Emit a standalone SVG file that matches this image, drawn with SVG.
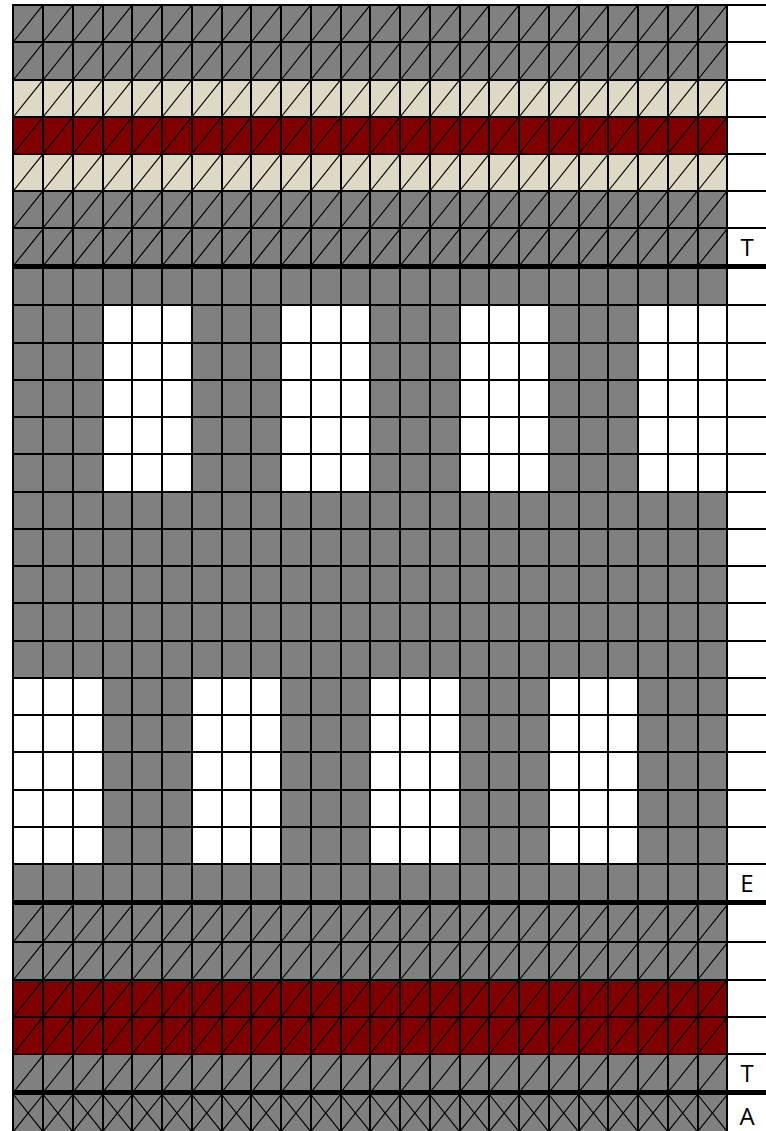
<svg xmlns="http://www.w3.org/2000/svg" xmlns:xlink="http://www.w3.org/1999/xlink" width="766" height="1131" viewBox="0 0 766 1131">
<style>
.g{fill:#808080}.c{fill:#DDD9C4}.r{fill:#800000}.w{fill:#FFFFFF}
.dg{fill:none;stroke:#000;stroke-width:1.2}
.gl{fill:none;stroke:#000;stroke-width:2}
.tk{fill:none;stroke:#000;stroke-width:5}
.lbl{font-family:"Open Sans","Liberation Sans",sans-serif;font-size:24px;fill:#000;text-anchor:middle}
</style>
<defs>
<path id="d" class="dg" d="M13.3,37.2l29.75,-37.2m0,37.2l29.75,-37.2m0,37.2l29.75,-37.2m0,37.2l29.75,-37.2m0,37.2l29.75,-37.2m0,37.2l29.75,-37.2m0,37.2l29.75,-37.2m0,37.2l29.75,-37.2m0,37.2l29.75,-37.2m0,37.2l29.75,-37.2m0,37.2l29.75,-37.2m0,37.2l29.75,-37.2m0,37.2l29.75,-37.2m0,37.2l29.75,-37.2m0,37.2l29.75,-37.2m0,37.2l29.75,-37.2m0,37.2l29.75,-37.2m0,37.2l29.75,-37.2m0,37.2l29.75,-37.2m0,37.2l29.75,-37.2m0,37.2l29.75,-37.2m0,37.2l29.75,-37.2m0,37.2l29.75,-37.2m0,37.2l29.75,-37.2"/>
<path id="b" class="dg" d="M13.3,0l29.75,37.2m0,-37.2l29.75,37.2m0,-37.2l29.75,37.2m0,-37.2l29.75,37.2m0,-37.2l29.75,37.2m0,-37.2l29.75,37.2m0,-37.2l29.75,37.2m0,-37.2l29.75,37.2m0,-37.2l29.75,37.2m0,-37.2l29.75,37.2m0,-37.2l29.75,37.2m0,-37.2l29.75,37.2m0,-37.2l29.75,37.2m0,-37.2l29.75,37.2m0,-37.2l29.75,37.2m0,-37.2l29.75,37.2m0,-37.2l29.75,37.2m0,-37.2l29.75,37.2m0,-37.2l29.75,37.2m0,-37.2l29.75,37.2m0,-37.2l29.75,37.2m0,-37.2l29.75,37.2m0,-37.2l29.75,37.2m0,-37.2l29.75,37.2"/>
</defs>
<rect width="766" height="1131" fill="#FFFFFF"/>
<g id="fills">
<rect class="g" x="13" y="5" width="714" height="75"/>
<rect class="c" x="13" y="80" width="714" height="37"/>
<rect class="r" x="13" y="117" width="714" height="37"/>
<rect class="c" x="13" y="154" width="714" height="37"/>
<rect class="g" x="13" y="191" width="714" height="712"/>
<rect class="w" x="103" y="305" width="89" height="187"/>
<rect class="w" x="281" y="305" width="89" height="187"/>
<rect class="w" x="460" y="305" width="89" height="187"/>
<rect class="w" x="638" y="305" width="89" height="187"/>
<rect class="w" x="13" y="678" width="90" height="186"/>
<rect class="w" x="192" y="678" width="89" height="186"/>
<rect class="w" x="370" y="678" width="90" height="186"/>
<rect class="w" x="549" y="678" width="89" height="186"/>
<rect class="g" x="13" y="902" width="714" height="78"/>
<rect class="r" x="13" y="980" width="714" height="74"/>
<rect class="g" x="13" y="1054" width="714" height="77"/>
</g>
<g id="diagonals">
<use xlink:href="#d" y="4.8"/>
<use xlink:href="#d" y="42.8"/>
<use xlink:href="#d" y="79.8"/>
<use xlink:href="#d" y="116.8"/>
<use xlink:href="#d" y="153.8"/>
<use xlink:href="#d" y="190.8"/>
<use xlink:href="#d" y="228.8"/>
<use xlink:href="#d" y="904.8"/>
<use xlink:href="#d" y="942.8"/>
<use xlink:href="#d" y="979.8"/>
<use xlink:href="#d" y="1016.8"/>
<use xlink:href="#d" y="1055.3"/>
<use xlink:href="#d" y="1094.5"/>
<use xlink:href="#b" y="1094.5"/>
</g>
<g id="grid">
<path class="gl" d="M12,5H766M12,42H766M12,80H766M12,117H766M12,154H766M12,191H766M12,228H766M12,305H766M12,343H766M12,380H766M12,417H766M12,454H766M12,492H766M12,529H766M12,566H766M12,603H766M12,641H766M12,678H766M12,715H766M12,752H766M12,790H766M12,827H766M12,864H766M12,942H766M12,980H766M12,1017H766M12,1054H766"/>
<path class="gl" d="M13,4V1131M43,4V1131M73,4V1131M103,4V1131M132,4V1131M162,4V1131M192,4V1131M222,4V1131M251,4V1131M281,4V1131M311,4V1131M341,4V1131M370,4V1131M400,4V1131M430,4V1131M460,4V1131M489,4V1131M519,4V1131M549,4V1131M579,4V1131M608,4V1131M638,4V1131M668,4V1131M698,4V1131M727,4V1131"/>
<path class="tk" d="M12,266.5H766M12,902.5H766M12,1092.5H766"/>
</g>
<g id="labels">
<text class="lbl" x="747" y="256">T</text>
<text class="lbl" x="747" y="892">E</text>
<text class="lbl" x="747" y="1082">T</text>
<text class="lbl" x="747" y="1125">A</text>
</g>
</svg>
